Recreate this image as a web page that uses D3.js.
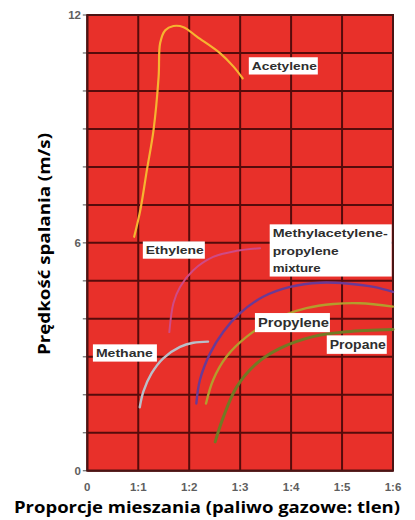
<!DOCTYPE html>
<html><head><meta charset="utf-8">
<script src="https://cdn.jsdelivr.net/npm/d3@7"></script>
<style>body{margin:0;background:#fff}</style></head>
<body><svg id="c" width="415" height="520"></svg>
<script>
// ---- data ----
const xTickLabels = ["0","1:1","1:2","1:3","1:4","1:5","1:6"];
const yTickLabels = [0, 6, 12];
const acetylene = [[0.92,6.16],[1.04,6.86],[1.17,7.92],[1.30,8.97],[1.40,10.38],[1.43,11.26],[1.53,11.60],[1.69,11.71],[1.89,11.68],[2.15,11.43],[2.61,10.99],[2.87,10.64],[3.05,10.33]];
const ethylene = [[1.61,3.65],[1.69,4.41],[1.82,4.84],[2.08,5.28],[2.47,5.63],[2.93,5.79],[3.39,5.86]];
const methane = [[1.03,1.67],[1.10,2.08],[1.26,2.56],[1.49,2.96],[1.82,3.26],[2.08,3.37],[2.37,3.40]];
const mixture = [[2.14,1.77],[2.21,2.39],[2.41,3.09],[2.67,3.66],[2.99,4.14],[3.45,4.58],[3.98,4.84],[4.57,4.95],[5.09,4.93],[5.62,4.84],[6.00,4.71]];
const propylene = [[2.33,1.77],[2.47,2.39],[2.73,3.00],[3.13,3.53],[3.65,3.97],[4.30,4.28],[4.83,4.39],[5.35,4.41],[6.00,4.32]];
const propane = [[2.51,0.76],[2.67,1.41],[2.93,2.20],[3.32,2.82],[3.78,3.22],[4.43,3.53],[5.09,3.66],[6.00,3.72]];

const series = [
  {name:"Acetylene", data:acetylene, color:"#f6b430", w:2.2},
  {name:"Ethylene", data:ethylene, color:"#cf4a86", w:2},
  {name:"Methane", data:methane, color:"#b9bfc9", w:2.4},
  {name:"Mixture", data:mixture, color:"#6a3a96", w:2.4},
  {name:"Propylene", data:propylene, color:"#b49c2c", w:2.4},
  {name:"Propane", data:propane, color:"#727a24", w:3}
];
// label annotations
const labels = [
  {lines:["Acetylene"], x:3.17, y:[10.66], fs:11.5, tl:[65], boxW:69},
  {lines:["Ethylene"], x:1.09, y:[5.81], fs:11.5, tl:[58], boxW:62},
  {lines:["Methylacetylene-","propylene","mixture"], x:3.58, y:[6.26,5.80,5.34], fs:11.5, tl:[115,66,48], boxW:122},
  {lines:["Methane"], x:0.11, y:[3.10], fs:11.5, tl:[57], boxW:64},
  {lines:["Propylene"], x:3.29, y:[3.90], fs:13, tl:[71], boxW:75},
  {lines:["Propane"], x:4.70, y:[3.32], fs:12.5, tl:[56], boxW:60}
];

// ---- layout ----
const L = 87.3, R = 393, T = 15, B = 470.7;
const svg = d3.select("#c");
const x = d3.scaleLinear().domain([0, 6]).range([L, R]);
const y = d3.scaleLinear().domain([0, 12]).range([B, T]);

svg.append("rect").attr("x", L).attr("y", T).attr("width", R - L).attr("height", B - T).attr("fill", "#e8302a");

const g = svg.append("g");
d3.range(0, 13).forEach(v => {
  g.append("line").attr("x1", L).attr("x2", R).attr("y1", y(v)).attr("y2", y(v))
    .attr("stroke", "#560b0b").attr("stroke-width", 2);
  g.append("line").attr("x1", L - 4.5).attr("x2", L).attr("y1", y(v)).attr("y2", y(v))
    .attr("stroke", "#777").attr("stroke-width", 1.3);
});
d3.range(0, 7).forEach(v => {
  g.append("line").attr("x1", x(v)).attr("x2", x(v)).attr("y1", T).attr("y2", B)
    .attr("stroke", "#560b0b").attr("stroke-width", 2);
});
svg.append("rect").attr("x", L).attr("y", T).attr("width", R - L).attr("height", B - T)
  .attr("fill", "none").attr("stroke", "#4a1414").attr("stroke-width", 2);

// tick labels
svg.selectAll(".xt").data(xTickLabels).enter().append("text")
  .attr("x", (d, i) => x(i)).attr("y", 491).attr("text-anchor", "middle")
  .attr("font-family", "Liberation Sans, Arial, sans-serif").attr("font-weight", "bold")
  .attr("font-size", 11.5).attr("fill", "#5e5e5e").text(d => d);
svg.selectAll(".yt").data(yTickLabels).enter().append("text")
  .attr("x", 81).attr("y", d => y(d)).attr("dy", "0.36em").attr("text-anchor", "end")
  .attr("font-family", "Liberation Sans, Arial, sans-serif").attr("font-weight", "bold")
  .attr("font-size", 11.5).attr("fill", "#5e5e5e").text(d => d);

// curves
const line = d3.line().x(d => x(d[0])).y(d => y(d[1])).curve(d3.curveCatmullRom.alpha(0.5));
series.forEach(s => {
  svg.append("path").attr("d", line(s.data)).attr("fill", "none")
    .attr("stroke", s.color).attr("stroke-width", s.w).attr("stroke-linecap", "round");
});

// labels
labels.forEach(lb => {
  const top = y(lb.y[0]) - lb.fs * 0.62 - 1.5;
  const bottom = y(lb.y[lb.y.length - 1]) + lb.fs * 0.62 + 1.5;
  svg.append("rect").attr("x", x(lb.x)).attr("y", top).attr("width", lb.boxW).attr("height", bottom - top)
    .attr("fill", "#fff");
  lb.lines.forEach((t, i) => {
    const tx = svg.append("text").attr("x", x(lb.x) + 3).attr("y", y(lb.y[i])).attr("dy", "0.36em")
      .attr("font-family", "Liberation Sans, Arial, sans-serif").attr("font-weight", "bold")
      .attr("font-size", lb.fs).attr("fill", "#2e2e2e").text(t);
    if (lb.tl[i]) tx.attr("textLength", lb.tl[i]).attr("lengthAdjust", "spacingAndGlyphs");
  });
});

// axis titles
svg.append("text").attr("x", 207).attr("y", 513).attr("text-anchor", "middle")
  .attr("font-family", "Open Sans, sans-serif").attr("font-weight", "bold").attr("font-size", 15.5)
  .attr("fill", "#000").attr("textLength", 386).attr("lengthAdjust", "spacingAndGlyphs")
  .text("Proporcje mieszania (paliwo gazowe: tlen)");
svg.append("text").attr("transform", "translate(50,244) rotate(-90)").attr("text-anchor", "middle")
  .attr("font-family", "Open Sans, sans-serif").attr("font-weight", "bold").attr("font-size", 15.5)
  .attr("fill", "#000").attr("textLength", 222).attr("lengthAdjust", "spacingAndGlyphs")
  .text("Prędkość spalania (m/s)");
</script></body></html>
